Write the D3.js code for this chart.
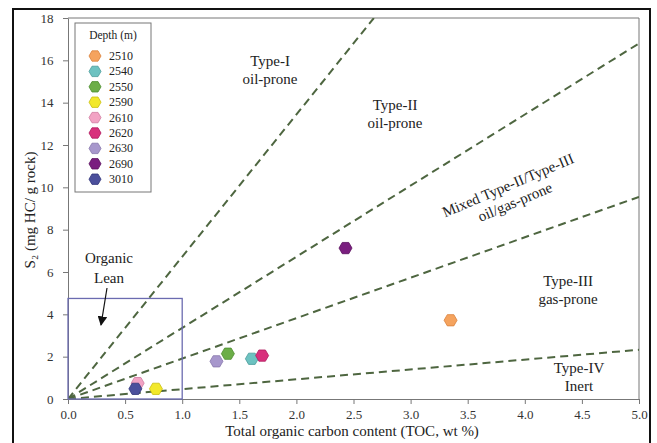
<!DOCTYPE html>
<html>
<head>
<meta charset="utf-8">
<script src="https://cdn.jsdelivr.net/npm/d3@7"></script>
<style>
  body { margin: 0; background: #fff; }
  text { font-family: "Liberation Serif", "DejaVu Serif", serif; fill: #222; }
  .tick text { font-size: 13px; fill: #333; }
  .tick line, .domain { stroke: #777; }
  .region { font-size: 15px; text-anchor: middle; }
</style>
</head>
<body>
<svg id="chart" width="657" height="443"></svg>
<script>
// sample depths and measured values
var depths = ['2510', '2540', '2550', '2590', '2610', '2620', '2630', '2690', '3010'];
var toc = [3.35, 1.61, 1.40, 0.77, 0.61, 1.70, 1.30, 2.43, 0.59];
var s2 = [3.72, 1.90, 2.14, 0.48, 0.75, 2.05, 1.78, 7.13, 0.48];
var colors = ['#f5a35e', '#6dc2c1', '#6cae48', '#f2e82b', '#f2a3c4', '#d8307c', '#a797cc', '#7a1e7f', '#4b4f9c'];
var strokes = ['#d9823c', '#4a9c9b', '#4d8d2e', '#c9bf10', '#d07a9f', '#b01b5e', '#8676ab', '#5a105e', '#33377c'];

// kerogen type boundary lines (S2 = slope * TOC)
var slopes = [6.72, 3.36, 1.91, 0.465];
var xTicks = [0, 0.5, 1, 1.5, 2, 2.5, 3, 3.5, 4, 4.5, 5];
var yTicks = [0, 2, 4, 6, 8, 10, 12, 14, 16, 18];
var leanBox = {toc: 1.0, s2: 4.75};

var svg = d3.select('#chart');
var pl = 68, pr = 639, pt = 18, pb = 399;  // plot edges

var x = d3.scaleLinear().domain([0, 5]).range([pl, pr]);
var y = d3.scaleLinear().domain([0, 18]).range([pb, pt]);

// outer frame
svg.append('rect')
  .attr('x', 13).attr('y', 9).attr('width', 637).attr('height', 440)
  .attr('fill', 'none').attr('stroke', '#111').attr('stroke-width', 2);

// plot box (top and right)
svg.append('path')
  .attr('d', 'M' + pl + ',' + pt + 'H' + pr + 'V' + pb)
  .attr('fill', 'none').attr('stroke', '#777').attr('stroke-width', 1);

svg.append('defs').append('clipPath').attr('id', 'clip')
  .append('rect').attr('x', pl).attr('y', pt)
  .attr('width', pr - pl).attr('height', pb - pt);

// axes
svg.append('g')
  .attr('transform', 'translate(0,' + pb + ')')
  .call(d3.axisBottom(x).tickValues(xTicks).tickFormat(d3.format('.1f')).tickSize(5).tickSizeOuter(0))
  .call(g => g.selectAll('.tick text').attr('dy', '0.95em'));

svg.append('g')
  .attr('transform', 'translate(' + pl + ',0)')
  .call(d3.axisLeft(y).tickValues(yTicks).tickSize(5).tickSizeOuter(0))
  .call(g => g.selectAll('.tick text').attr('dx', '-0.5em'));

// boundary lines
svg.append('g').attr('clip-path', 'url(#clip)')
  .selectAll('line')
  .data(slopes)
  .enter()
  .append('line')
  .attr('x1', x(0)).attr('y1', y(0))
  .attr('x2', d => x(Math.min(5, 18 / d)))
  .attr('y2', d => y(Math.min(18, d * 5)))
  .attr('stroke', '#4e6640')
  .attr('stroke-width', 2)
  .attr('stroke-dasharray', '8,5');

// organic lean box
svg.append('rect')
  .attr('x', x(0)).attr('y', y(leanBox.s2))
  .attr('width', x(leanBox.toc) - x(0))
  .attr('height', y(0) - y(leanBox.s2))
  .attr('fill', 'none').attr('stroke', '#6b6bb0').attr('stroke-width', 1.3);

svg.append('text').attr('class', 'region').attr('x', 109).attr('y', 263).text('Organic');
svg.append('text').attr('class', 'region').attr('x', 109).attr('y', 283).text('Lean');

svg.append('defs').append('marker')
  .attr('id', 'arrow').attr('viewBox', '0 0 10 10').attr('refX', 9).attr('refY', 5)
  .attr('markerWidth', 8).attr('markerHeight', 8).attr('orient', 'auto')
  .append('path').attr('d', 'M0,0L10,5L0,10z').attr('fill', '#111');
svg.append('line')
  .attr('x1', 107).attr('y1', 288).attr('x2', 101).attr('y2', 325)
  .attr('stroke', '#111').attr('stroke-width', 1.2).attr('marker-end', 'url(#arrow)');

// region labels
function label(lines, cx, cy, angle) {
  var t = svg.append('text').attr('class', 'region')
    .attr('transform', 'translate(' + cx + ',' + cy + ') rotate(' + (angle || 0) + ')');
  lines.forEach((s, i) => {
    t.append('tspan').attr('x', 0).attr('y', i * 18).text(s);
  });
}
label(['Type-I', 'oil-prone'], 270, 66);
label(['Type-II', 'oil-prone'], 395, 110);
label(['Mixed Type-II/Type-III', 'oil/gas-prone'], 510, 190, -23);
label(['Type-III', 'gas-prone'], 568, 286);
label(['Type-IV', 'Inert'], 579, 373);

// hexagon markers
function hex(r) {
  var p = d3.range(6).map(i => {
    var a = Math.PI / 3 * i;
    return [r * Math.cos(a), r * Math.sin(a)];
  });
  return 'M' + p.join('L') + 'Z';
}

svg.selectAll('path.pt')
  .data(depths)
  .enter()
  .append('path')
  .attr('class', 'pt')
  .attr('d', hex(6.5))
  .attr('transform', (d, i) => 'translate(' + x(toc[i]) + ',' + y(s2[i]) + ')')
  .attr('fill', (d, i) => colors[i])
  .attr('stroke', (d, i) => strokes[i])
  .attr('stroke-width', 0.8);

// legend
var lg = svg.append('g');
lg.append('rect')
  .attr('x', 75).attr('y', 23).attr('width', 76).attr('height', 169)
  .attr('fill', '#fff').attr('stroke', '#777').attr('stroke-width', 1);
lg.append('text').attr('x', 113).attr('y', 39).attr('text-anchor', 'middle')
  .attr('font-size', 11.5).text('Depth (m)');
var row = lg.selectAll('g.item')
  .data(depths)
  .enter()
  .append('g')
  .attr('class', 'item')
  .attr('transform', (d, i) => 'translate(95,' + (56 + i * 15.4) + ')');
row.append('path')
  .attr('d', hex(6))
  .attr('fill', (d, i) => colors[i])
  .attr('stroke', (d, i) => strokes[i])
  .attr('stroke-width', 0.8);
row.append('text')
  .attr('x', 14).attr('y', 4).attr('font-size', 12).text(d => d);

// axis titles
svg.append('text').attr('x', 352).attr('y', 436).attr('text-anchor', 'middle')
  .attr('font-size', 15).text('Total organic carbon content (TOC, wt %)');
svg.append('text').attr('transform', 'translate(35,210) rotate(-90)')
  .attr('text-anchor', 'middle').attr('font-size', 15).text('S₂ (mg HC/ g rock)');
</script>
</body>
</html>
